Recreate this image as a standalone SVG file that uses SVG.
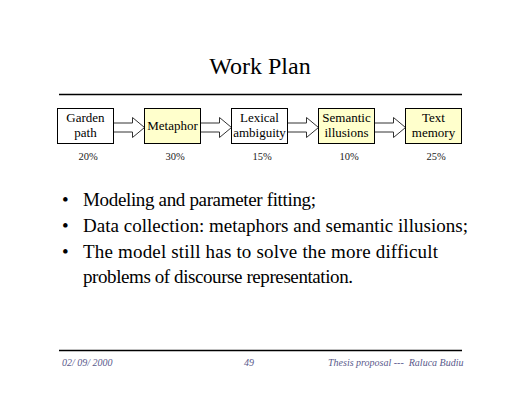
<svg xmlns="http://www.w3.org/2000/svg" width="520" height="402" viewBox="0 0 520 402">
<style>
.bg{fill:#fff}
.box{stroke:#000;stroke-width:1}
.w{fill:#fff}
.y{fill:#ffffcc}
.lbl{font-family:"Liberation Serif","Times New Roman",serif;font-size:13px;fill:#000;text-anchor:middle}
.pct{font-family:"Liberation Serif","Times New Roman",serif;font-size:10.5px;fill:#222;text-anchor:middle}
.arr{fill:#fff;stroke:#333;stroke-width:1}
.body{font-family:"Liberation Serif","Times New Roman",serif;font-size:19px;fill:#000}
.foot{font-family:"Liberation Serif","Times New Roman",serif;font-size:10px;font-style:italic;fill:#5a5a8c}
.rule{stroke:#000;stroke-width:1.5}
</style>
<rect class="bg" x="0" y="0" width="520" height="402"/>
<text x="260" y="74" font-family="Liberation Serif, Times New Roman, serif" font-size="24" text-anchor="middle">Work Plan</text>
<line class="rule" x1="59" y1="94.5" x2="462" y2="94.5"/>
<g id="connectors">
<path class="arr" d="M113.5,123 H132.5 V117.5 L144.5,127.5 L132.5,137.5 V132 H113.5 Z"/>
<path class="arr" d="M200.5,123 H219.5 V117.5 L231.5,127.5 L219.5,137.5 V132 H200.5 Z"/>
<path class="arr" d="M287.5,123 H306.5 V117.5 L318.5,127.5 L306.5,137.5 V132 H287.5 Z"/>
<path class="arr" d="M374.5,123 H393.5 V117.5 L405.5,127.5 L393.5,137.5 V132 H374.5 Z"/>
</g>
<g id="garden">
<rect class="box w" x="57.5" y="108.5" width="56" height="35"/>
<text class="lbl" x="85.5" y="122">Garden</text>
<text class="lbl" x="85.5" y="137">path</text>
<text class="pct" x="88" y="160">20%</text>
</g>
<g id="metaphor">
<rect class="box y" x="144.5" y="108.5" width="56" height="35"/>
<text class="lbl" x="172.5" y="130">Metaphor</text>
<text class="pct" x="175" y="160">30%</text>
</g>
<g id="lexical">
<rect class="box w" x="231.5" y="108.5" width="56" height="35"/>
<text class="lbl" x="259.5" y="122">Lexical</text>
<text class="lbl" x="259.5" y="137">ambiguity</text>
<text class="pct" x="262" y="160">15%</text>
</g>
<g id="semantic">
<rect class="box y" x="318.5" y="108.5" width="56" height="35"/>
<text class="lbl" x="346.5" y="122">Semantic</text>
<text class="lbl" x="346.5" y="137">illusions</text>
<text class="pct" x="349" y="160">10%</text>
</g>
<g id="text-memory">
<rect class="box y" x="405.5" y="108.5" width="56" height="35"/>
<text class="lbl" x="433.5" y="122">Text</text>
<text class="lbl" x="433.5" y="137">memory</text>
<text class="pct" x="436" y="160">25%</text>
</g>
<g id="bullets">
<text class="body" x="62" y="206">•</text>
<text class="body" x="83" y="206" textLength="233" lengthAdjust="spacing">Modeling and parameter fitting;</text>
<text class="body" x="62" y="232">•</text>
<text class="body" x="83" y="232" textLength="385" lengthAdjust="spacing">Data collection: metaphors and semantic illusions;</text>
<text class="body" x="62" y="258">•</text>
<text class="body" x="83" y="258" textLength="355" lengthAdjust="spacing">The model still has to solve the more difficult</text>
<text class="body" x="83" y="283" textLength="270" lengthAdjust="spacing">problems of discourse representation.</text>
</g>
<line class="rule" x1="59" y1="350.5" x2="462" y2="350.5" stroke-width="2"/>
<g id="footer">
<text class="foot" x="62" y="366">02/ 09/ 2000</text>
<text class="foot" x="249" y="366" text-anchor="middle">49</text>
<text class="foot" x="328" y="366" font-size="10.3" style="white-space:pre">Thesis proposal ---  Raluca Budiu</text>
</g>
</svg>
